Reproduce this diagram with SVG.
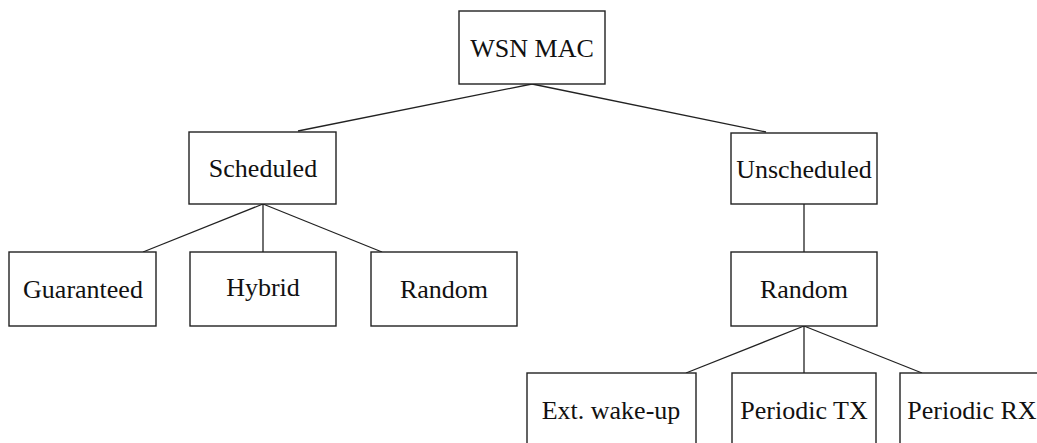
<svg xmlns="http://www.w3.org/2000/svg" width="1037" height="443" viewBox="0 0 1037 443">
<style>
.box{fill:#fff;stroke:#222;stroke-width:1.4}
text{font-family:"Liberation Serif","DejaVu Serif",serif;font-size:26px;fill:#111;text-anchor:middle}
#connectors line{stroke:#222;stroke-width:1.3}
</style>
<rect width="1037" height="443" fill="#fff"/>
<g id="connectors">
<line x1="532" y1="84" x2="298" y2="131"/>
<line x1="532" y1="84" x2="766" y2="132"/>
<line x1="263" y1="204" x2="143" y2="252"/>
<line x1="263" y1="204" x2="263" y2="252"/>
<line x1="263" y1="204" x2="382" y2="252"/>
<line x1="804" y1="204" x2="804" y2="252"/>
<line x1="804" y1="326" x2="686" y2="373"/>
<line x1="804" y1="326" x2="804" y2="373"/>
<line x1="804" y1="326" x2="922" y2="373"/>
</g>
<g id="wsn-mac"><rect class="box" x="459" y="11" width="146" height="73"/><text x="532" y="57">WSN MAC</text></g>
<g id="scheduled"><rect class="box" x="189" y="132" width="147" height="72"/><text x="263" y="177">Scheduled</text></g>
<g id="unscheduled"><rect class="box" x="731" y="133" width="146" height="71"/><text x="804" y="178">Unscheduled</text></g>
<g id="guaranteed"><rect class="box" x="9" y="252" width="147" height="74"/><text x="83" y="298">Guaranteed</text></g>
<g id="hybrid"><rect class="box" x="190" y="252" width="146" height="74"/><text x="263" y="296">Hybrid</text></g>
<g id="random-s"><rect class="box" x="371" y="252" width="146" height="74"/><text x="444" y="298">Random</text></g>
<g id="random-u"><rect class="box" x="731" y="252" width="146" height="74"/><text x="804" y="298">Random</text></g>
<g id="ext-wakeup"><rect class="box" x="527" y="373" width="169" height="80"/><text x="611" y="419">Ext. wake-up</text></g>
<g id="periodic-tx"><rect class="box" x="732" y="373" width="144" height="80"/><text x="804" y="419">Periodic TX</text></g>
<g id="periodic-rx"><rect class="box" x="900" y="373" width="150" height="80"/><text x="972" y="419">Periodic RX</text></g>
</svg>
